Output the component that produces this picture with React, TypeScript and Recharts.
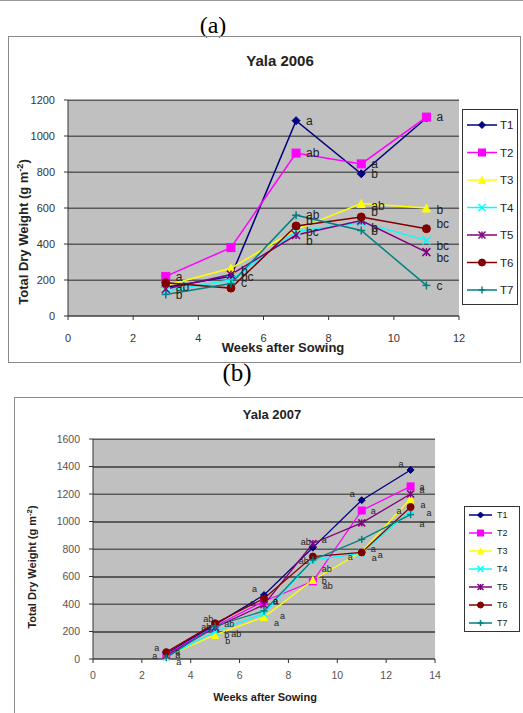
import React from 'react';
import { LineChart, Line, XAxis, YAxis, CartesianGrid, LabelList } from 'recharts';

const FONT = "'Liberation Sans', Arial, sans-serif";

const treatments = ['T1', 'T2', 'T3', 'T4', 'T5', 'T6', 'T7'];
const colors = ['#000080', '#ff00ff', '#ffff00', '#00ffff', '#800080', '#800000', '#008080'];
const markers = ['diamond', 'square', 'triangle', 'x', 'star', 'circle', 'plus'];

// Yala 2006 - total dry weight (g m-2)
const weeks2006 = [3, 5, 7, 9, 11];
const t1_2006 = [160, 220, 1085, 790, 1100];
const t2_2006 = [220, 380, 905, 845, 1105];
const t3_2006 = [170, 265, 480, 625, 600];
const t4_2006 = [140, 200, 470, 520, 420];
const t5_2006 = [150, 230, 450, 530, 355];
const t6_2006 = [185, 155, 500, 550, 485];
const t7_2006 = [120, 180, 560, 475, 170];
// significance letters
const s1_2006 = ['ab', 'bc', 'a', 'b', ''];
const s2_2006 = ['a', '', 'ab', 'a', 'a'];
const s3_2006 = ['', 'b', 'bc', 'ab', 'b'];
const s4_2006 = ['', '', '', 'b', 'bc'];
const s5_2006 = ['', '', 'b', '', 'bc'];
const s6_2006 = ['', 'c', 'b', 'b', 'bc'];
const s7_2006 = ['b', '', 'ab', 'b', 'c'];

// Yala 2007
const weeks2007 = [3, 5, 7, 9, 11, 13];
const t1_2007 = [40, 250, 465, 810, 1155, 1375];
const t2_2007 = [30, 240, 420, 565, 1080, 1255];
const t3_2007 = [20, 175, 305, 575, 780, 1165];
const t4_2007 = [15, 200, 330, 720, 770, 1080];
const t5_2007 = [25, 230, 395, 840, 990, 1200];
const t6_2007 = [50, 260, 440, 745, 775, 1105];
const t7_2007 = [10, 240, 350, 720, 870, 1050];
const s1_2007 = ['a', 'ab', 'a', 'ab', 'a', 'a'];
const s2_2007 = ['a', '', 'a', 'b', 'a', 'a'];
const s3_2007 = ['a', 'b', 'a', 'ab', 'a', 'a'];
const s4_2007 = ['', 'ab', 'a', '', 'a', 'a'];
const s5_2007 = ['a', 'ab', 'a', 'a', '', 'a'];
const s6_2007 = ['a', 'ab', 'a', 'ab', 'a', 'a'];
const s7_2007 = ['', 'b', '', 'ab', 'a', 'a'];

const buildRows = (weeks: number[], vals: number[][], sigs: string[][]) =>
  weeks.map((w, i) => {
    const row: any = { week: w };
    treatments.forEach((t, j) => {
      row[t] = vals[j][i];
      row[t + '_sig'] = sigs[j][i];
    });
    return row;
  });

const data2006 = buildRows(
  weeks2006,
  [t1_2006, t2_2006, t3_2006, t4_2006, t5_2006, t6_2006, t7_2006],
  [s1_2006, s2_2006, s3_2006, s4_2006, s5_2006, s6_2006, s7_2006]
);
const data2007 = buildRows(
  weeks2007,
  [t1_2007, t2_2007, t3_2007, t4_2007, t5_2007, t6_2007, t7_2007],
  [s1_2007, s2_2007, s3_2007, s4_2007, s5_2007, s6_2007, s7_2007]
);

// where each series puts its letters, relative to the marker
const labelShift2006 = [[10, 0], [10, 0], [10, 2], [10, 5], [10, 6], [10, -5], [10, 0]];
const labelShift2007 = [[-12, -6], [9, 0], [10, 6], [16, 2], [9, -4], [-14, 4], [9, 9]];

const Marker = ({ cx, cy, j, size }: { cx: number; cy: number; j: number; size: number }) => {
  const c = colors[j];
  const h = size / 2;
  switch (markers[j]) {
    case 'diamond':
      return <polygon points={`${cx},${cy - h} ${cx + h},${cy} ${cx},${cy + h} ${cx - h},${cy}`} fill={c} stroke={c} />;
    case 'square':
      return <rect x={cx - h} y={cy - h} width={size} height={size} fill={c} stroke={c} />;
    case 'triangle':
      return <polygon points={`${cx},${cy - h} ${cx + h},${cy + h} ${cx - h},${cy + h}`} fill={c} stroke={c} />;
    case 'x':
      return (
        <g stroke={c} strokeWidth={1.5}>
          <line x1={cx - h} y1={cy - h} x2={cx + h} y2={cy + h} />
          <line x1={cx - h} y1={cy + h} x2={cx + h} y2={cy - h} />
        </g>
      );
    case 'star':
      return (
        <g stroke={c} strokeWidth={1.5}>
          <line x1={cx - h} y1={cy - h} x2={cx + h} y2={cy + h} />
          <line x1={cx - h} y1={cy + h} x2={cx + h} y2={cy - h} />
          <line x1={cx} y1={cy - h} x2={cx} y2={cy + h} />
        </g>
      );
    case 'circle':
      return <circle cx={cx} cy={cy} r={h} fill={c} stroke={c} />;
    default:
      return (
        <g stroke={c} strokeWidth={1.5}>
          <line x1={cx - h} y1={cy} x2={cx + h} y2={cy} />
          <line x1={cx} y1={cy - h} x2={cx} y2={cy + h} />
        </g>
      );
  }
};

const dotFor = (j: number, size: number) => (props: any) => {
  const { cx, cy, index } = props;
  if (cx == null || cy == null) return <g key={`d${j}-${index}`} />;
  return (
    <g key={`d${j}-${index}`}>
      <Marker cx={cx} cy={cy} j={j} size={size} />
    </g>
  );
};

const sigLabel = (fontSize: number, dx: number, dy: number) => (props: any) => {
  const { x, y, value, index } = props;
  if (!value) return null;
  return (
    <text key={`l${index}`} x={x + dx} y={y + dy + fontSize * 0.35} fontSize={fontSize} fill="#222" fontFamily={FONT}>
      {value}
    </text>
  );
};

const LegendBox = ({ left, top, width, height, spacing, first, lineEnd, textX, fontSize, size }: any) => (
  <svg style={{ position: 'absolute', left, top }} width={width} height={height}>
    <rect x={0.5} y={0.5} width={width - 1} height={height - 1} fill="#fff" stroke="#333" />
    {treatments.map((t, j) => {
      const y = first + j * spacing;
      return (
        <g key={t}>
          <line x1={5} x2={lineEnd} y1={y} y2={y} stroke={colors[j]} strokeWidth={1.5} />
          <Marker cx={(5 + lineEnd) / 2} cy={y} j={j} size={size} />
          <text x={textX} y={y + fontSize * 0.35} fontSize={fontSize} fontFamily={FONT} fill="#222">
            {t}
          </text>
        </g>
      );
    })}
  </svg>
);

const yTitle = (x: number, y: number, fontSize: number) => () => (
  <text transform={`translate(${x},${y}) rotate(-90)`} textAnchor="middle" fontSize={fontSize} fontWeight="bold" fontFamily={FONT} fill="#222">
    Total Dry Weight (g m<tspan dy={-fontSize * 0.35} fontSize={fontSize * 0.7}>-2</tspan>
    <tspan dy={fontSize * 0.35}>)</tspan>
  </text>
);

const xTitle = (x: number, y: number, fontSize: number) => () => (
  <text x={x} y={y + fontSize * 0.35} textAnchor="middle" fontSize={fontSize} fontWeight="bold" fontFamily={FONT} fill="#222">
    Weeks after Sowing
  </text>
);

const Panel = ({ data, width, height, margin, xMax, xTicks, yMax, yTicks, tickFont, tickColor, xTickMargin, yTickMargin, xt, yt, titleFont, dotSize, labelFont, strokeW, shifts }: any) => {
  const plotLeft = margin.left + margin.yw;
  const plotWidth = width - plotLeft - margin.right;
  const plotHeight = height - margin.top - margin.bottom - 20;
  return (
    <div style={{ position: 'relative', width, height }}>
      {/* grey plot area with its gridlines, behind the svg */}
      <div style={{ position: 'absolute', left: plotLeft, top: margin.top, width: plotWidth, height: plotHeight, background: '#c0c0c0' }}>
        {yTicks
          .filter((v: number) => v > 0)
          .map((v: number) => (
            <div
              key={v}
              style={{ position: 'absolute', left: 0, width: plotWidth, height: 1, top: Math.round(plotHeight * (1 - v / yMax)), background: '#5a5a5a' }}
            />
          ))}
      </div>
      <div style={{ position: 'absolute', left: 0, top: 0 }}>
        <LineChart width={width} height={height} data={data} margin={margin}>
          <CartesianGrid vertical={false} stroke="#5a5a5a" strokeWidth={1} />
          <XAxis
            type="number"
            dataKey="week"
            domain={[0, xMax]}
            ticks={xTicks}
            allowDecimals={false}
            height={20}
            tickSize={4}
            tickMargin={xTickMargin}
            axisLine={{ stroke: '#333' }}
            tickLine={{ stroke: '#333' }}
            tick={{ fill: tickColor, fontSize: tickFont, fontFamily: FONT }}
            label={{ content: xTitle(xt[0], xt[1], titleFont) }}
          />
          <YAxis
            type="number"
            domain={[0, yMax]}
            ticks={yTicks}
            width={margin.yw}
            tickSize={4}
            tickMargin={yTickMargin}
            axisLine={{ stroke: '#333' }}
            tickLine={{ stroke: '#333' }}
            tick={{ fill: tickColor, fontSize: tickFont, fontFamily: FONT }}
            label={{ content: yTitle(yt[0], yt[1], titleFont) }}
          />
          {treatments.map((t, j) => (
            <Line
              key={t}
              type="linear"
              dataKey={t}
              stroke={colors[j]}
              strokeWidth={strokeW}
              dot={dotFor(j, dotSize)}
              activeDot={false}
              isAnimationActive={false}
            >
              <LabelList dataKey={t + '_sig'} content={sigLabel(labelFont, shifts[j][0], shifts[j][1])} />
            </Line>
          ))}
        </LineChart>
      </div>
    </div>
  );
};

const App = () => (
  <div style={{ position: 'absolute', left: 0, top: 0, width: 523, height: 713, overflow: 'hidden', background: '#fff' }}>
    <div style={{ position: 'absolute', left: 0, top: 0, width: 523, height: 1, background: '#999' }} />
    <div style={{ position: 'absolute', left: 163, top: 9, width: 100, textAlign: 'center', fontFamily: "'Liberation Serif', 'Times New Roman', serif", fontSize: 24, lineHeight: '32px' }}>
      (a)
    </div>
    <div style={{ position: 'absolute', left: 8, top: 36, width: 513, height: 327, border: '1px solid #8a8a8a', boxSizing: 'border-box' }} />
    <div style={{ position: 'absolute', left: 8, top: 36 }}>
      <Panel
        data={data2006}
        width={513}
        height={327}
        margin={{ top: 64, right: 62, bottom: 27, left: 0, yw: 60 }}
        xMax={12}
        xTicks={[0, 2, 4, 6, 8, 10, 12]}
        yMax={1200}
        yTicks={[0, 200, 400, 600, 800, 1000, 1200]}
        tickFont={11}
        tickColor="#333"
        xTickMargin={14}
        yTickMargin={9}
        xt={[275, 311]}
        yt={[20, 196]}
        titleFont={13}
        dotSize={8}
        labelFont={12}
        strokeW={1.5}
        shifts={labelShift2006}
      />
      <div style={{ position: 'absolute', left: 172, top: 16, width: 200, textAlign: 'center', fontFamily: FONT, fontWeight: 'bold', fontSize: 15, color: '#222' }}>
        Yala 2006
      </div>
      <LegendBox left={454} top={73} width={56} height={196} spacing={27.5} first={16} lineEnd={35} textX={38} fontSize={11.5} size={7} />
    </div>

    <div style={{ position: 'absolute', left: 187, top: 357, width: 100, textAlign: 'center', fontFamily: "'Liberation Serif', 'Times New Roman', serif", fontSize: 25, lineHeight: '32px' }}>
      (b)
    </div>
    <div style={{ position: 'absolute', left: 14, top: 397, width: 530, height: 340, border: '1px solid #8a8a8a', boxSizing: 'border-box' }} />
    <div style={{ position: 'absolute', left: 14, top: 397 }}>
      <Panel
        data={data2007}
        width={509}
        height={316}
        margin={{ top: 42, right: 88, bottom: 34, left: 0, yw: 79 }}
        xMax={14}
        xTicks={[0, 2, 4, 6, 8, 10, 12, 14]}
        yMax={1600}
        yTicks={[0, 200, 400, 600, 800, 1000, 1200, 1400, 1600]}
        tickFont={10.5}
        tickColor="#555"
        xTickMargin={9}
        yTickMargin={9}
        xt={[251, 300]}
        yt={[22, 170]}
        titleFont={11}
        dotSize={7}
        labelFont={9}
        strokeW={1.3}
        shifts={labelShift2007}
      />
      <div style={{ position: 'absolute', left: 158, top: 10, width: 200, textAlign: 'center', fontFamily: FONT, fontWeight: 'bold', fontSize: 13, color: '#222' }}>
        Yala 2007
      </div>
      <LegendBox left={450} top={109} width={56} height={126} spacing={18} first={9} lineEnd={28} textX={33} fontSize={9} size={6} />
    </div>
  </div>
);

export default App;
